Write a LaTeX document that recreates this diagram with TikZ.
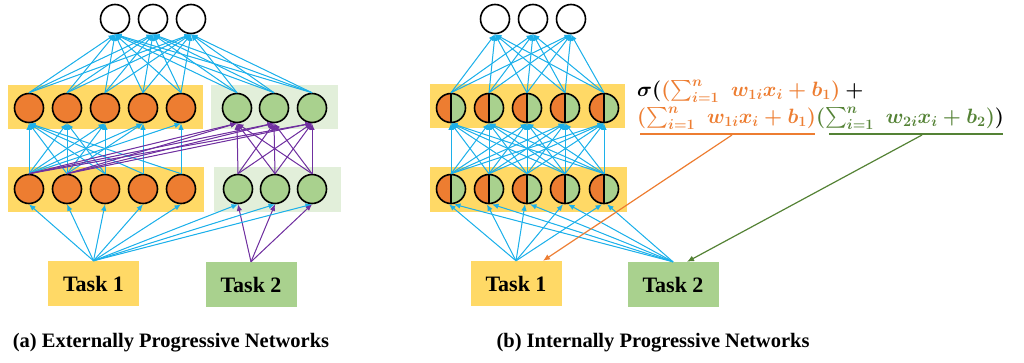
\documentclass[tikz,border=0pt]{standalone}
\usepackage{fontspec}
\setmainfont{Liberation Serif}
\usepackage{amsmath}
\usetikzlibrary{arrows.meta}

\definecolor{cYellow}{HTML}{FFD966}
\definecolor{cOrange}{HTML}{ED7D31}
\definecolor{cGreen}{HTML}{A9D18E}
\definecolor{cLightGreen}{HTML}{E2EFDA}
\definecolor{cBlue}{HTML}{1CB0EA}
\definecolor{cPurple}{HTML}{7030A0}
\definecolor{cDarkGreen}{HTML}{548235}

\newsavebox{\eqBoxA}
\newsavebox{\eqBoxB}

\begin{document}
\sbox{\eqBoxA}{\fontsize{21}{24}\selectfont\boldmath$\sigma(\textcolor{cOrange}{(\sum_{i=1}^{n}\mkern6mu w_{1i}x_i+b_1)}+{}$}%
\sbox{\eqBoxB}{\fontsize{21}{24}\selectfont\boldmath$\textcolor{cOrange}{(\sum_{i=1}^{n}\mkern6mu w_{1i}x_i+b_1)}\textcolor{cDarkGreen}{(\sum_{i=1}^{n}\mkern6mu w_{2i}x_i+b_2)})$}%
\begin{tikzpicture}[
        x=1pt, y=-1pt,
        neuron/.style={circle, draw=black, line width=1.6pt, minimum size=29pt, inner sep=0pt},
        nodeOut/.style={neuron, fill=white},
        nodeOrange/.style={neuron, fill=cOrange},
        nodeGreen/.style={neuron, fill=cGreen},
        nodeHalf/.style={neuron, fill=cOrange,
            path picture={
                \fill[cGreen] (path picture bounding box.north) rectangle (path picture bounding box.south east);
                \draw[line width=1.6pt] (path picture bounding box.north) -- (path picture bounding box.south);}},
        taskBox/.style={minimum width=91pt, minimum height=45pt, inner sep=0pt, font=\fontsize{22}{24}\selectfont\bfseries},
        blueArrow/.style={-{Latex[length=6.5pt,width=5.5pt]}, draw=cBlue, fill=cBlue, line width=1pt},
        purpleArrow/.style={-{Latex[length=6.5pt,width=5.5pt]}, draw=cPurple, fill=cPurple, line width=1pt},
        captionText/.style={font=\fontsize{20.5}{22}\selectfont\bfseries},
        eqText/.style={anchor=base west, inner sep=0pt}
        ]
        \useasboundingbox (0,0) rectangle (1024,362);

        % (a) externally progressive
        \fill[cYellow] (8,85) rectangle (203,129);
        \fill[cLightGreen] (211,85) rectangle (338,129);
        \fill[cYellow] (8,167) rectangle (204,212);
        \fill[cLightGreen] (214,167) rectangle (341,212);

        \foreach \i/\x in {1/115,2/153,3/191}
            \node[nodeOut] (aOut\i) at (\x,19) {};
        \foreach \i/\x in {1/29,2/67,3/105,4/143,5/181} {
            \node[nodeOrange] (aUpO\i) at (\x,108) {};
            \node[nodeOrange] (aLoO\i) at (\x,189) {};
        }
        \foreach \i/\x in {1/237,2/274,3/312}
            \node[nodeGreen] (aUpG\i) at (\x,108) {};
        \foreach \i/\x in {1/238,2/275,3/312}
            \node[nodeGreen] (aLoG\i) at (\x,189) {};

        \node[taskBox, fill=cYellow] (aTask1) at (93.5,283.5) {Task 1};
        \node[taskBox, fill=cGreen] (aTask2) at (251,284.5) {Task 2};

        \foreach \j in {1,2,3} {
            \foreach \i in {1,...,5}
                \draw[blueArrow] (aUpO\i.north) -- (aOut\j.south);
            \foreach \i in {1,2,3}
                \draw[blueArrow] (aUpG\i.north) -- (aOut\j.south);
        }
        \foreach \s/\t in {1/1,1/2,1/3,1/4,1/5,2/1,2/2,2/3,2/4,3/1,3/2,3/3,4/1,4/4,5/1,5/5}
            \draw[blueArrow] (aLoO\s.north) -- (aUpO\t.south);
        \foreach \t in {1,2,3} {
            \foreach \s in {1,2}
                \draw[purpleArrow] (aLoO\s.north) -- (aUpG\t.south);
            \foreach \s in {1,2,3}
                \draw[purpleArrow] (aLoG\s.north) -- (aUpG\t.south);
        }
        \foreach \i in {1,...,5}
            \draw[blueArrow] (aTask1.north) -- (aLoO\i.south);
        \foreach \i in {1,2,3} {
            \draw[blueArrow] (aTask1.north) -- (aLoG\i.south);
            \draw[purpleArrow] (aTask2.north) -- (aLoG\i.south);
        }

        \node[captionText] (capA) at (171,343) {(a) Externally Progressive Networks};

        % (b) internally progressive
        \fill[cYellow] (430,84) rectangle (625,128);
        \fill[cYellow] (430,167) rectangle (627,212);

        \foreach \i/\x in {1/495,2/533,3/571}
            \node[nodeOut] (bOut\i) at (\x,19) {};
        \foreach \i/\x in {1/451,2/489,3/527,4/565,5/604} {
            \node[nodeHalf] (bUp\i) at (\x,108) {};
            \node[nodeHalf] (bLo\i) at (\x,189) {};
        }

        \node[taskBox, fill=cYellow] (bTask1) at (516,283.5) {Task 1};
        \node[taskBox, fill=cGreen] (bTask2) at (673,284.5) {Task 2};

        \foreach \j in {1,2,3}
            \foreach \i in {1,...,5}
                \draw[blueArrow] (bUp\i.north) -- (bOut\j.south);
        \foreach \s in {1,...,5}
            \foreach \t in {1,...,5}
                \draw[blueArrow] (bLo\s.north) -- (bUp\t.south);
        \foreach \i in {1,...,5} {
            \draw[blueArrow] (bTask1.north) -- ([xshift=-2pt]bLo\i.south);
            \draw[blueArrow] (bTask2.north) -- ([xshift=3pt]bLo\i.south);
        }

        \node[eqText] (eqLineA) at (637,96) {\usebox{\eqBoxA}};
        \node[eqText] (eqLineB) at (637,123) {\usebox{\eqBoxB}};

        \coordinate (ulOrangeL) at (640,134);
        \coordinate (ulOrangeR) at (815,134);
        \coordinate (ulGreenL) at (829,134);
        \coordinate (ulGreenR) at (1003,134);
        \draw[cOrange, line width=1.2pt] (ulOrangeL) -- (ulOrangeR);
        \draw[cDarkGreen, line width=1.2pt] (ulGreenL) -- (ulGreenR);
        \coordinate (ulOrangeM) at (732,135);
        \coordinate (ulGreenM) at (922,135);
        \draw[-{Latex[length=7pt,width=6pt]}, cOrange, line width=1.2pt] (ulOrangeM) -- ([xshift=27pt]bTask1.north);
        \draw[-{Latex[length=7pt,width=6pt]}, cDarkGreen, line width=1.2pt] (ulGreenM) -- ([xshift=14pt]bTask2.north);

        \node[captionText] (capB) at (653,343) {(b) Internally Progressive Networks};
    \end{tikzpicture}
\end{document}
